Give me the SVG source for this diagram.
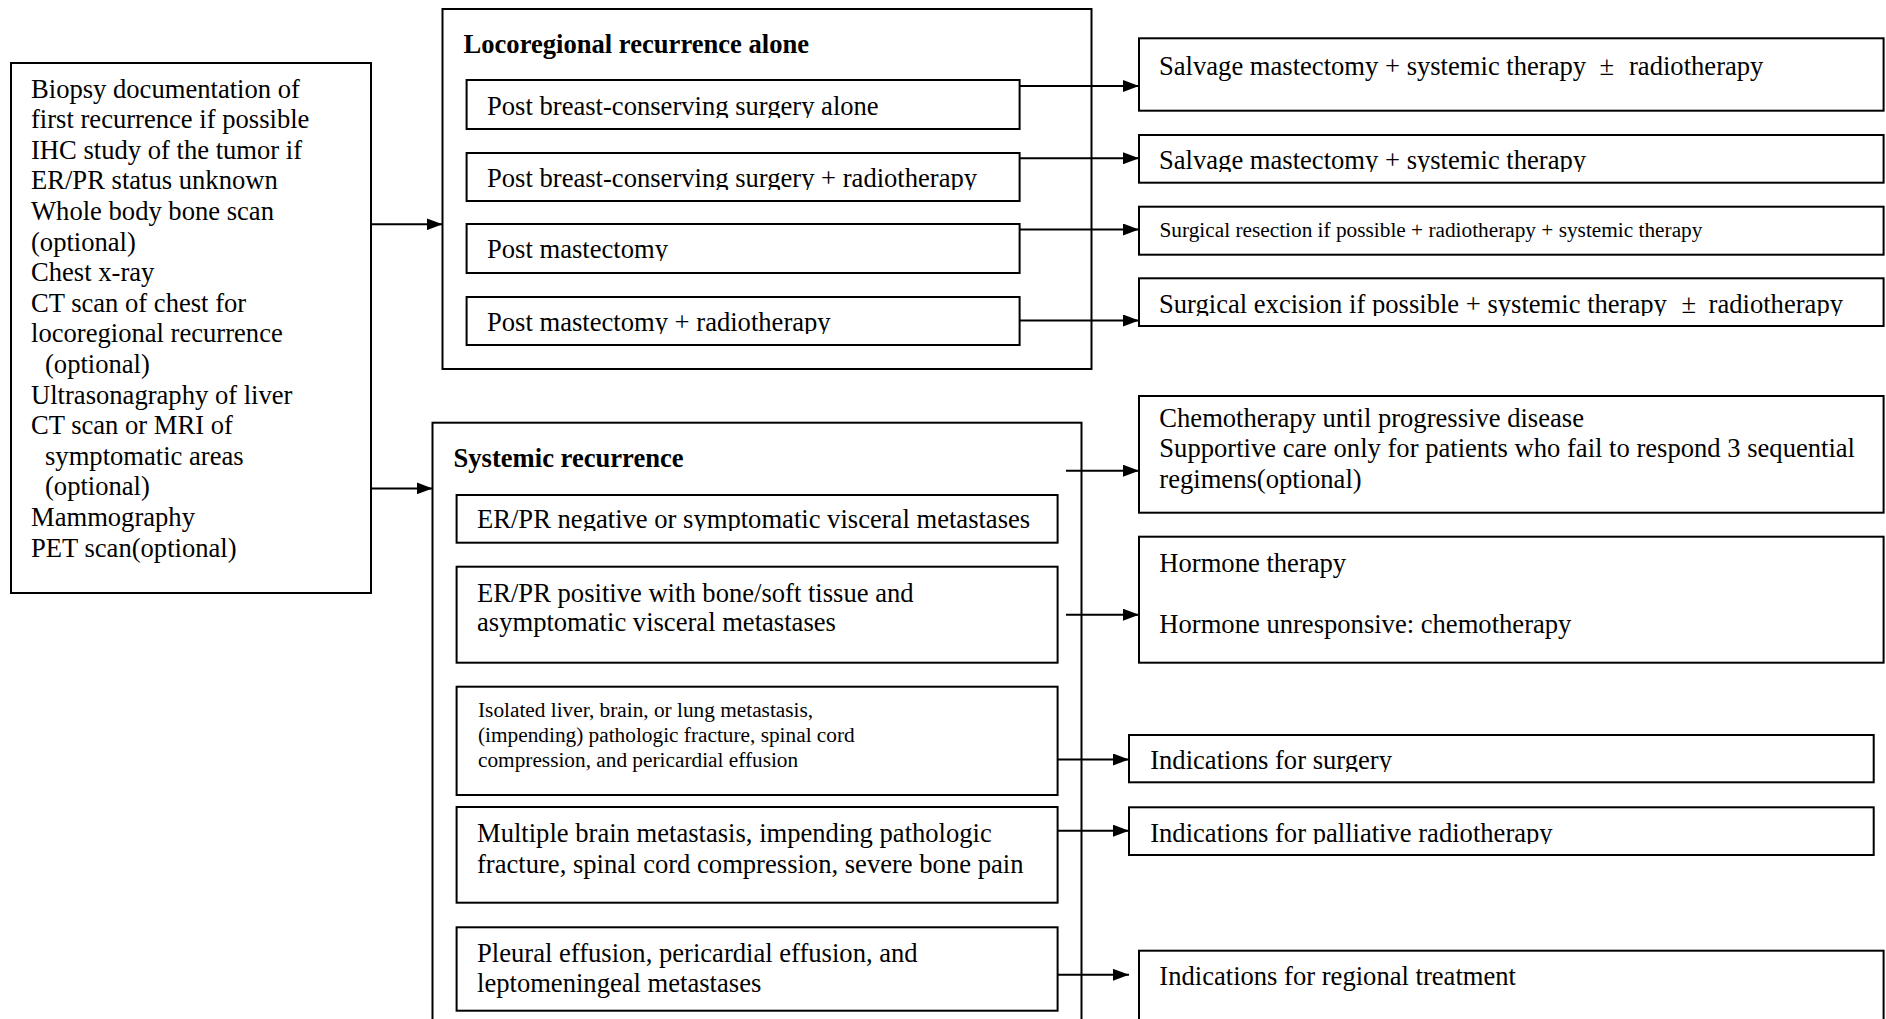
<svg xmlns="http://www.w3.org/2000/svg" width="1886" height="1019" viewBox="0 0 1886 1019">
<style>
.box{fill:#fff;stroke:#000;stroke-width:2}
.t{font-family:"Liberation Serif","Times New Roman",serif;font-size:26.6px;fill:#000}
.s{font-size:21.3px}
.b{font-weight:bold}
.c{stroke:#000;stroke-width:2;fill:none;marker-end:url(#ah)}
</style>
<defs>
<marker id="ah" markerUnits="userSpaceOnUse" markerWidth="16" markerHeight="12" refX="16" refY="6" orient="auto">
<path d="M0,0 L16,6 L0,12 z" fill="#000"/>
</marker>
<clipPath id="k1"><rect x="466" y="80" width="554" height="38"/></clipPath>
<clipPath id="k2"><rect x="466" y="153" width="554" height="37"/></clipPath>
<clipPath id="k3"><rect x="466" y="224" width="554" height="37"/></clipPath>
<clipPath id="k4"><rect x="466" y="297" width="554" height="37"/></clipPath>
<clipPath id="k5"><rect x="1139" y="135" width="745" height="37"/></clipPath>
<clipPath id="k6"><rect x="1139" y="278" width="745" height="38"/></clipPath>
<clipPath id="k7"><rect x="456" y="495" width="602" height="36"/></clipPath>
<clipPath id="k8"><rect x="1129" y="735" width="745" height="37"/></clipPath>
<clipPath id="k9"><rect x="1129" y="807" width="745" height="37"/></clipPath>
</defs>
<rect width="1886" height="1019" fill="#fff"/>

<g id="workup">
<rect class="box" x="11" y="63" width="360" height="530"/>
<text class="t">
<tspan x="31" y="97.5">Biopsy documentation of</tspan>
<tspan x="31" y="128.1">first recurrence if possible</tspan>
<tspan x="31" y="158.7">IHC study of the tumor if</tspan>
<tspan x="31" y="189.3">ER/PR status unknown</tspan>
<tspan x="31" y="219.9">Whole body bone scan</tspan>
<tspan x="31" y="250.5">(optional)</tspan>
<tspan x="31" y="281.1">Chest x-ray</tspan>
<tspan x="31" y="311.7">CT scan of chest for</tspan>
<tspan x="31" y="342.3">locoregional recurrence</tspan>
<tspan x="45" y="372.9">(optional)</tspan>
<tspan x="31" y="403.5">Ultrasonagraphy of liver</tspan>
<tspan x="31" y="434.1">CT scan or MRI of</tspan>
<tspan x="45" y="464.7">symptomatic areas</tspan>
<tspan x="45" y="495.3">(optional)</tspan>
<tspan x="31" y="525.9">Mammography</tspan>
<tspan x="31" y="556.5">PET scan(optional)</tspan>
</text>
</g>

<g id="locoregional">
<rect class="box" x="442.5" y="9" width="649" height="360"/>
<text class="t b" x="463.5" y="53">Locoregional recurrence alone</text>
</g>
<g id="loco-bcs">
<rect class="box" x="466.6" y="80" width="553" height="49"/>
<text class="t" x="487" y="115" clip-path="url(#k1)">Post breast-conserving surgery alone</text>
</g>
<g id="loco-bcs-rt">
<rect class="box" x="466.6" y="153" width="553" height="48"/>
<text class="t" x="487" y="187" clip-path="url(#k2)">Post breast-conserving surgery + radiotherapy</text>
</g>
<g id="loco-mast">
<rect class="box" x="466.6" y="224" width="553" height="49"/>
<text class="t" x="487" y="258.3" clip-path="url(#k3)">Post mastectomy</text>
</g>
<g id="loco-mast-rt">
<rect class="box" x="466.6" y="297" width="553" height="48"/>
<text class="t" x="487" y="331" clip-path="url(#k4)">Post mastectomy + radiotherapy</text>
</g>

<g id="tx-salvage-rt">
<rect class="box" x="1139" y="38.3" width="744.6" height="72.4"/>
<text class="t" y="75"><tspan x="1159">Salvage mastectomy + systemic therapy</tspan><tspan x="1599.5">±</tspan><tspan x="1629">radiotherapy</tspan></text>
</g>
<g id="tx-salvage">
<rect class="box" x="1139" y="135" width="744.6" height="47.7"/>
<text class="t" x="1159" y="169.3" clip-path="url(#k5)">Salvage mastectomy + systemic therapy</text>
</g>
<g id="tx-resection">
<rect class="box" x="1139" y="206.7" width="744.6" height="48"/>
<text class="t s" x="1159.5" y="236.7">Surgical resection if possible + radiotherapy + systemic therapy</text>
</g>
<g id="tx-excision">
<rect class="box" x="1139" y="278.3" width="744.6" height="47.7"/>
<text class="t" y="313.3" clip-path="url(#k6)"><tspan x="1159">Surgical excision if possible + systemic therapy</tspan><tspan x="1681.5">±</tspan><tspan x="1708.6">radiotherapy</tspan></text>
</g>

<g id="systemic">
<rect class="box" x="432.5" y="422.7" width="649" height="620"/>
<text class="t b" x="453.5" y="467.3">Systemic recurrence</text>
</g>
<g id="sys-neg">
<rect class="box" x="456.6" y="495" width="601" height="47.7"/>
<text class="t" x="477" y="528.3" clip-path="url(#k7)">ER/PR negative or symptomatic visceral metastases</text>
</g>
<g id="sys-pos">
<rect class="box" x="456.6" y="566.7" width="601" height="96"/>
<text class="t"><tspan x="477" y="601.7">ER/PR positive with bone/soft tissue and</tspan><tspan x="477" y="630.7">asymptomatic visceral metastases</tspan></text>
</g>
<g id="sys-isolated">
<rect class="box" x="456.6" y="686.7" width="601" height="108.3"/>
<text class="t s"><tspan x="478" y="716.7">Isolated liver, brain, or lung metastasis,</tspan><tspan x="478" y="741.7">(impending) pathologic fracture, spinal cord</tspan><tspan x="478" y="766.9">compression, and pericardial effusion</tspan></text>
</g>
<g id="sys-multiple">
<rect class="box" x="456.6" y="807" width="601" height="95.7"/>
<text class="t"><tspan x="477" y="841.7">Multiple brain metastasis, impending pathologic</tspan><tspan x="477" y="872.5">fracture, spinal cord compression, severe bone pain</tspan></text>
</g>
<g id="sys-pleural">
<rect class="box" x="456.6" y="927.3" width="601" height="83.4"/>
<text class="t"><tspan x="477" y="961.7">Pleural effusion, pericardial effusion, and</tspan><tspan x="477" y="991.7">leptomeningeal metastases</tspan></text>
</g>

<g id="tx-chemo">
<rect class="box" x="1139" y="396" width="744.6" height="116.7"/>
<text class="t"><tspan x="1159.3" y="426.7">Chemotherapy until progressive disease</tspan><tspan x="1159.3" y="457">Supportive care only for patients who fail to respond 3 sequential</tspan><tspan x="1159.3" y="487.8">regimens(optional)</tspan></text>
</g>
<g id="tx-hormone">
<rect class="box" x="1139" y="536.7" width="744.6" height="126"/>
<text class="t"><tspan x="1159.3" y="571.7">Hormone therapy</tspan><tspan x="1159.3" y="633.3">Hormone unresponsive: chemotherapy</tspan></text>
</g>
<g id="tx-surgery">
<rect class="box" x="1129" y="735" width="744.7" height="47.3"/>
<text class="t" x="1150.2" y="769.3" clip-path="url(#k8)">Indications for surgery</text>
</g>
<g id="tx-palliative">
<rect class="box" x="1129" y="807.3" width="744.7" height="47.7"/>
<text class="t" x="1150.2" y="841.7" clip-path="url(#k9)">Indications for palliative radiotherapy</text>
</g>
<g id="tx-regional">
<rect class="box" x="1139" y="950.7" width="744.6" height="90"/>
<text class="t" x="1159.3" y="985">Indications for regional treatment</text>
</g>

<g id="connectors">
<line class="c" x1="371" y1="224.3" x2="442.5" y2="224.3"/>
<line class="c" x1="371" y1="488.4" x2="432.5" y2="488.4"/>
<line class="c" x1="1019.7" y1="86" x2="1139" y2="86"/>
<line class="c" x1="1019.7" y1="158.3" x2="1139" y2="158.3"/>
<line class="c" x1="1019.7" y1="229.5" x2="1139" y2="229.5"/>
<line class="c" x1="1019.7" y1="320.5" x2="1139" y2="320.5"/>
<line class="c" x1="1066" y1="470.7" x2="1139" y2="470.7"/>
<line class="c" x1="1066" y1="614.7" x2="1139" y2="614.7"/>
<line class="c" x1="1057.5" y1="759.5" x2="1129" y2="759.5"/>
<line class="c" x1="1057.5" y1="830.7" x2="1129" y2="830.7"/>
<line class="c" x1="1057.5" y1="974.8" x2="1129" y2="974.8"/>
</g>
</svg>
